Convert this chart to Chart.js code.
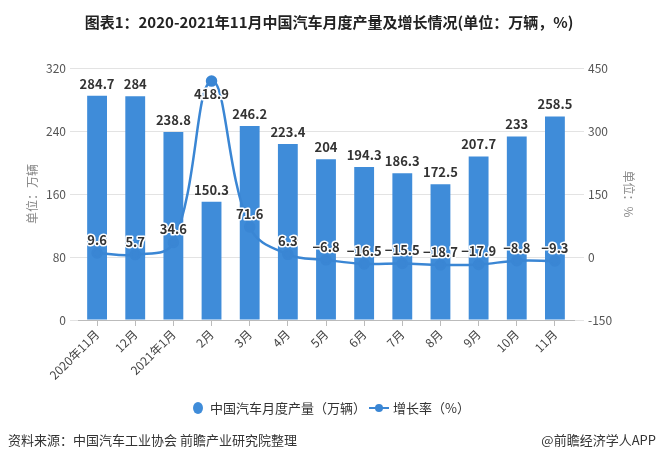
<!DOCTYPE html>
<html>
<head>
<meta charset="utf-8">
<script src="https://cdn.jsdelivr.net/npm/chart.js@4"></script>
<style>
  html, body { margin: 0; padding: 0; background: #fff; }
  #wrap { width: 658px; height: 462px; position: relative; }
</style>
</head>
<body>
<div id="wrap"><canvas id="chart" width="658" height="462"></canvas></div>
<script>
const months = ['2020年11月', '12月', '2021年1月', '2月', '3月', '4月', '5月', '6月', '7月', '8月', '9月', '10月', '11月'];
const output = [284.7, 284, 238.8, 150.3, 246.2, 223.4, 204, 194.3, 186.3, 172.5, 207.7, 233, 258.5];
const growth = [9.6, 5.7, 34.6, 418.9, 71.6, 6.3, -6.8, -16.5, -15.5, -18.7, -17.9, -8.8, -9.3];
const leftTicks = [0, 80, 160, 240, 320];
const rightTicks = [-150, 0, 150, 300, 450];

const FONT = '"Noto Sans CJK SC", "Noto Sans", sans-serif';
const barColor = '#3f8cd9';
const lineColor = '#3a86d4';

// Labels, legend, title and footer drawn by hand
const extras = {
    id: 'extras',
    afterDatasetsDraw(chart) {
        const ctx = chart.ctx;
        const area = chart.chartArea;
        ctx.save();
        ctx.textAlign = 'center';
        ctx.textBaseline = 'middle';
        ctx.font = 'bold 13px ' + FONT;

        // bar value labels
        chart.getDatasetMeta(0).data.forEach((bar, i) => {
            ctx.fillStyle = '#333';
            ctx.fillText(String(output[i]), bar.x, bar.y - 12);
        });

        // growth labels, white halo
        ctx.lineWidth = 3;
        ctx.strokeStyle = '#fff';
        ctx.lineJoin = 'round';
        chart.getDatasetMeta(1).data.forEach((pt, i) => {
            let y = pt.y - 13;
            if (pt.y - 20 < area.top) y = pt.y + 13;
            const txt = String(growth[i]).replace('-', '−');
            ctx.strokeText(txt, pt.x, y);
            ctx.fillStyle = '#333';
            ctx.fillText(txt, pt.x, y);
        });
        ctx.restore();
    },
    afterDraw(chart) {
        const ctx = chart.ctx;
        ctx.save();
        ctx.textBaseline = 'middle';

        // title
        ctx.textAlign = 'center';
        ctx.fillStyle = '#222';
        ctx.font = 'bold 15px ' + FONT;
        ctx.fillText('图表1：2020-2021年11月中国汽车月度产量及增长情况(单位：万辆，%)', 329, 22);

        // legend
        ctx.textAlign = 'left';
        ctx.font = '13px ' + FONT;
        const ly = 408;
        ctx.fillStyle = barColor;
        ctx.beginPath();
        ctx.ellipse(198, ly, 5, 6, 0, 0, Math.PI * 2);
        ctx.fill();
        ctx.fillStyle = '#333';
        ctx.fillText('中国汽车月度产量（万辆）', 210, ly);

        ctx.strokeStyle = lineColor;
        ctx.lineWidth = 2;
        ctx.beginPath();
        ctx.moveTo(369, ly);
        ctx.lineTo(389, ly);
        ctx.stroke();
        ctx.fillStyle = lineColor;
        ctx.beginPath();
        ctx.arc(379, ly, 4, 0, Math.PI * 2);
        ctx.fill();
        ctx.fillStyle = '#333';
        ctx.fillText('增长率（%）', 393, ly);

        // footer
        ctx.font = '13px ' + FONT;
        ctx.fillStyle = '#333';
        ctx.fillText('资料来源：中国汽车工业协会 前瞻产业研究院整理', 8, 440);
        ctx.textAlign = 'right';
        ctx.fillText('@前瞻经济学人APP', 656, 440);
        ctx.restore();
    }
};

const ctx = document.getElementById('chart').getContext('2d');
const chart = new Chart(ctx, {
    type: 'bar',
    data: {
        labels: months,
        datasets: [{
            type: 'bar',
            label: '中国汽车月度产量（万辆）',
            data: output,
            backgroundColor: barColor,
            yAxisID: 'y',
            barPercentage: 0.52,
            categoryPercentage: 1,
            order: 2
        }, {
            type: 'line',
            label: '增长率（%）',
            data: growth,
            borderColor: lineColor,
            backgroundColor: lineColor,
            borderWidth: 2.5,
            pointRadius: 4.5,
            pointBackgroundColor: lineColor,
            pointBorderColor: lineColor,
            tension: 0.4,
            yAxisID: 'y1',
            order: 1
        }]
    },
    options: {
        responsive: false,
        animation: false,
        layout: { padding: { top: 68, left: 25, right: 22, bottom: 0 } },
        plugins: {
            legend: { display: false },
            title: { display: false },
            tooltip: { enabled: false }
        },
        scales: {
            x: {
                grid: { offset: false, drawOnChartArea: false, tickLength: 6, color: '#bbb' },
                border: { color: '#bbb' },
                ticks: {
                    color: '#444',
                    font: { size: 12, family: FONT },
                    maxRotation: 45,
                    minRotation: 45,
                    autoSkip: false,
                    padding: 1
                },
                afterFit(scale) { scale.height = 142; }
            },
            y: {
                position: 'left',
                min: 0,
                max: 320,
                afterBuildTicks(scale) { scale.ticks = leftTicks.map(v => ({ value: v })); },
                grid: { color: '#e3e3e3', tickLength: 8 },
                border: { display: false },
                ticks: { color: '#555', font: { size: 12, family: FONT }, padding: 4 },
                title: {
                    display: true,
                    text: '单位：万辆',
                    color: '#888',
                    font: { size: 12, family: FONT },
                    padding: 0
                },
                afterFit(scale) { scale.width = 53; }
            },
            y1: {
                position: 'right',
                min: -150,
                max: 450,
                afterBuildTicks(scale) { scale.ticks = rightTicks.map(v => ({ value: v })); },
                grid: { drawOnChartArea: false, color: '#e3e3e3', tickLength: 10 },
                border: { display: false },
                ticks: { color: '#555', font: { size: 12, family: FONT }, padding: 4 },
                title: {
                    display: true,
                    text: '单位：%',
                    color: '#888',
                    font: { size: 12, family: FONT },
                    padding: 0
                },
                afterFit(scale) { scale.width = 62; }
            }
        }
    },
    plugins: [extras]
});
</script>
</body>
</html>
